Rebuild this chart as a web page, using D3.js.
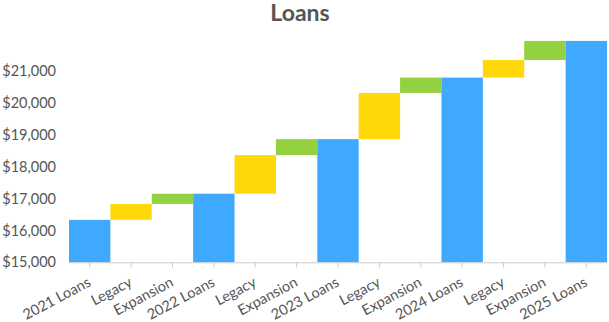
<!DOCTYPE html>
<html>
<head>
<meta charset="utf-8">
<style>
  body { margin: 0; background: #fff; font-family: Lato, "Open Sans", sans-serif; }
</style>
</head>
<body>
<svg id="chart"></svg>
<script src="https://cdn.jsdelivr.net/npm/d3@7"></script>
<script>

var categories = ["2021 Loans", "Legacy", "Expansion", "2022 Loans", "Legacy", "Expansion",
                  "2023 Loans", "Legacy", "Expansion", "2024 Loans", "Legacy", "Expansion", "2025 Loans"];
// "total" steps show a full bar, the others are deltas stacked on the running total
var kinds  = ["total", "legacy", "expansion", "total", "legacy", "expansion",
              "total", "legacy", "expansion", "total", "legacy", "expansion", "total"];
var values = [16330, 500, 320, 17150, 1210, 500, 18860, 1450, 480, 20790, 550, 600, 21940];
var yTicks = [15000, 16000, 17000, 18000, 19000, 20000, 21000];

var colors = { total: "#3fa9ff", legacy: "#ffd80a", expansion: "#93d140" };

var W = 609, H = 322;
var margin = {top: 40, right: 2, bottom: 60, left: 69};

var svg = d3.select("#chart").attr("width", W).attr("height", H);

// build running steps
var run = 0;
var steps = values.map(function(v, i) {
  var s;
  if (kinds[i] == "total") { s = {y0: 15000, y1: v}; run = v; }
  else { s = {y0: run, y1: run + v}; run += v; }
  s.name = i; s.kind = kinds[i];
  return s;
});

var x = d3.scaleBand()
  .domain(d3.range(categories.length))
  .range([margin.left, W - margin.right])
  .padding(0);

var y = d3.scaleLinear()
  .domain([15000, 22000])
  .range([262.3, 262.3 - 7 * 31.9]);

svg.append("text")
  .attr("x", 300)
  .attr("y", 21)
  .attr("text-anchor", "middle")
  .attr("font-size", "23px")
  .attr("font-weight", "bold")
  .attr("fill", "#555")
  .text("Loans");

svg.selectAll("rect.step")
  .data(steps)
  .enter().append("rect")
    .attr("class", "step")
    .attr("x", d => x(d.name))
    .attr("width", x.bandwidth())
    .attr("y", d => y(d.y1))
    .attr("height", d => y(d.y0) - y(d.y1))
    .attr("fill", d => colors[d.kind]);

// x axis
var xaxis = svg.append("g")
  .attr("transform", "translate(0," + y(15000) + ")")
  .call(d3.axisBottom(x).tickSize(5).tickSizeOuter(0).tickFormat(i => categories[i]));
xaxis.select(".domain").attr("stroke", "#ccc");
xaxis.selectAll(".tick line").attr("stroke", "#ccc");
xaxis.selectAll(".tick text")
  .attr("fill", "#555")
  .attr("font-size", "14.5px")
  .attr("font-family", "Lato, sans-serif")
  .attr("text-anchor", "end")
  .attr("x", 0)
  .attr("y", 0)
  .attr("dy", null)
  .attr("transform", "translate(2,23) rotate(-28)");

// y axis
var yaxis = svg.append("g")
  .attr("transform", "translate(" + (margin.left - 10) + ",0)")
  .call(d3.axisLeft(y).tickValues(yTicks).tickSize(0).tickFormat(d3.format("$,")));
yaxis.select(".domain").remove();
yaxis.selectAll(".tick text")
  .attr("fill", "#555")
  .attr("font-size", "14.5px")
  .attr("font-family", "Lato, sans-serif");

</script>
</body>
</html>
